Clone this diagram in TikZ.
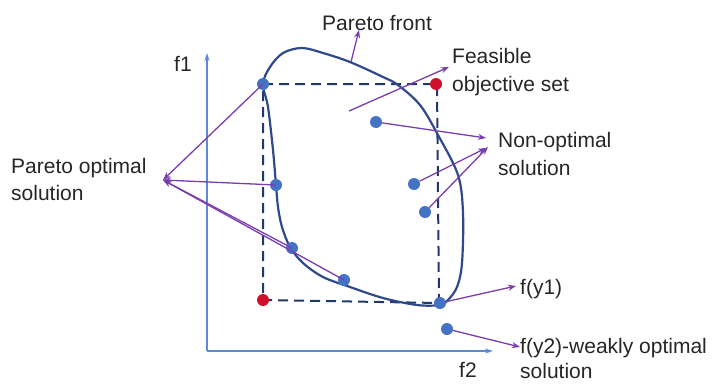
\documentclass[tikz,border=0pt]{standalone}
\usepackage{fontspec}
\setmainfont{Liberation Sans}
\usetikzlibrary{arrows.meta}
\definecolor{ptr}{HTML}{7A3DB0}
\definecolor{dotblue}{HTML}{4472C4}
\definecolor{dotred}{HTML}{D0102A}
\definecolor{front}{HTML}{2F4A8C}
\definecolor{dash}{HTML}{22386A}
\definecolor{axis}{HTML}{5B8BD8}
\begin{document}
\begin{tikzpicture}[x=1pt,y=-1pt,
  lbl/.style={anchor=base west,inner sep=0pt,font=\fontsize{21}{28}\selectfont,text=black!85},
  bdot/.style={circle,fill=dotblue,inner sep=0pt,minimum size=12pt},
  rdot/.style={circle,fill=dotred,inner sep=0pt,minimum size=12pt},
  ptrarrow/.style={draw=ptr,line width=1.3pt,-{Stealth[length=8pt,width=6pt]}},
  axisline/.style={draw=axis,line width=1.3pt,-{Stealth[length=8pt,width=5pt]}},
  dashbox/.style={draw=dash,line width=2pt,dash pattern=on 10pt off 6pt},
  frontline/.style={draw=front,line width=2.2pt}]
\useasboundingbox (0,0) rectangle (715,383);
% axes
\coordinate (O) at (207,351);
\coordinate (ytop) at (207,53);
\coordinate (xend) at (493,351);
\draw[axisline] (O) -- (ytop);
\draw[axisline] (O) -- (xend);
\node[lbl] (f1) at (174,71) {f1};
\node[lbl] (f2) at (459,377) {f2};
% dashed box
\coordinate (tl) at (263,84);
\coordinate (tr) at (437,84);
\coordinate (bl) at (263,300);
\coordinate (br) at (439,303);
\draw[dashbox] (tl) -- (tr) -- (br) -- (bl) -- cycle;
% Pareto front / feasible set
\draw[frontline] plot[smooth cycle,tension=0.55] coordinates {
 (263,84) (270,67) (283,53) (302,48) (323,53) (350,62) (383,77) (398,85)
 (420,105) (438,135) (458,175) (463,213) (462,263) (457,287) (448,300)
 (440,305) (417,305) (383,298) (350,287) (323,277) (303,263) (290,247)
 (282,227) (278,207) (276,185) (273,150) (268,107)};
% dots
\node[bdot] (p1) at (263,84) {};
\node[bdot] (p2) at (276,185) {};
\node[bdot] (p3) at (292,248) {};
\node[bdot] (p4) at (344,280) {};
\node[bdot] (y1) at (440,303) {};
\node[bdot] (y2) at (447,329) {};
\node[bdot] (n1) at (376,122) {};
\node[bdot] (n2) at (414,184) {};
\node[bdot] (n3) at (425,212) {};
\node[rdot] (r1) at (436,84) {};
\node[rdot] (r2) at (263,300) {};
% labels
\node[lbl] (lpf) at (322,30) {Pareto front};
\node[lbl] (lfe1) at (452,63) {Feasible};
\node[lbl] (lfe2) at (452,91) {objective set};
\node[lbl] (lno1) at (498,147) {Non-optimal};
\node[lbl] (lno2) at (498,175) {solution};
\node[lbl] (lpo1) at (11,173) {Pareto optimal};
\node[lbl] (lpo2) at (11,200) {solution};
\node[lbl] (ly1) at (520,294) {f(y1)};
\node[lbl] (ly2) at (520,353) {f(y2)-weakly optimal};
\node[lbl] (ly2b) at (520,378) {solution};
% arrow coordinates
\coordinate (pfTail) at (351,62);
\coordinate (pfTip) at (359,30);
\coordinate (feTail) at (349,111);
\coordinate (feTip) at (449,67);
\coordinate (noTipA) at (486,138);
\coordinate (noTipB) at (486,148);
\coordinate (noTipC) at (488,147);
\coordinate (hub) at (163,180);
\coordinate (y1Tip) at (516,286);
\coordinate (y2Tip) at (520,347);
% arrows
\draw[ptrarrow] (pfTail) -- (pfTip);
\draw[ptrarrow] (feTail) -- (feTip);
\draw[ptrarrow] (n1) -- (noTipA);
\draw[ptrarrow] (n2) -- (noTipB);
\draw[ptrarrow] (n3) -- (noTipC);
\draw[ptrarrow] (p1.center) -- (hub);
\draw[ptrarrow] (p2.center) -- (hub);
\draw[ptrarrow] (p3.center) -- (hub);
\draw[ptrarrow] (p4.center) -- (hub);
\draw[ptrarrow] (y1) -- (y1Tip);
\draw[ptrarrow] (y2) -- (y2Tip);
\end{tikzpicture}
\end{document}
